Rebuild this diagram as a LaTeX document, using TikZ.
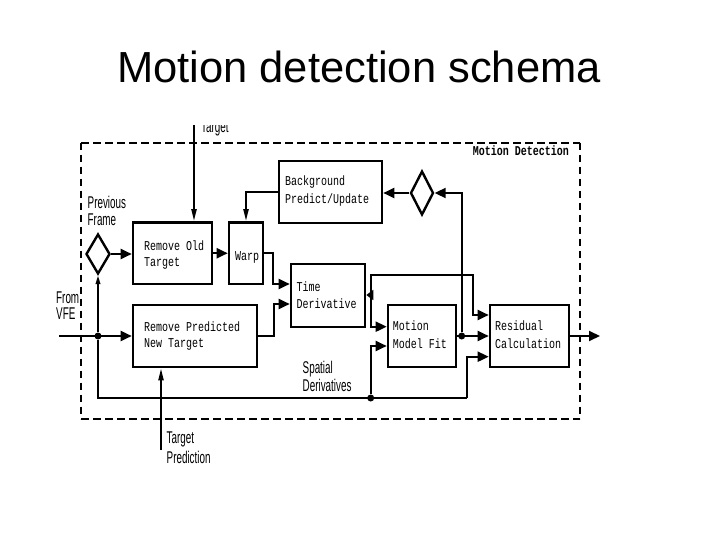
\documentclass[tikz,border=0pt]{standalone}
\usepackage{fontspec}
\setmainfont{Liberation Sans}
\newfontfamily\monof{Liberation Mono}
\usetikzlibrary{arrows.meta,shapes.geometric}
\newcommand\mtxt[2]{\scalebox{1}[1.35]{\monof\fontsize{10}{#1}\selectfont\begin{tabular}[t]{@{}l@{}}#2\end{tabular}}}
\newcommand\stxt[2]{\scalebox{0.58}[1]{\fontsize{17}{#1}\selectfont\begin{tabular}[t]{@{}l@{}}#2\end{tabular}}}
\begin{document}
\begin{tikzpicture}[x=1pt,y=-1pt,
  box/.style={draw, line width=2.6pt, inner sep=0pt},
  dia/.style={draw, diamond, line width=2.4pt, inner sep=0pt},
  conn/.style={line width=2pt},
  harr/.style={conn, -{Triangle[length=11pt,width=10pt]}},
  sarr/.style={conn, -{Triangle[length=7pt,width=10pt]}},
  varr/.style={conn, -{Triangle[length=12pt,width=5pt]}},
  vsarr/.style={conn, -{Triangle[length=9pt,width=4.5pt]}},
  dot/.style={circle, fill, inner sep=0pt, minimum size=7pt},
  lbl/.style={inner sep=0pt, anchor=base west},
  frameh/.style={line width=2pt, dash pattern=on 8pt off 4pt},
  framev/.style={line width=1.1pt, dash pattern=on 7pt off 5pt}]
\useasboundingbox (0,0) rectangle (720,540);
% title
\node[inner sep=0pt, anchor=base] (title) at (359,82.7) {\fontsize{43.5}{50}\selectfont Motion detection schema};
% frame
\draw[frameh] (81,142.7) -- (580,142.7);
\draw[frameh] (81,418.7) -- (580,418.7);
\draw[framev] (81,142.7) -- (81,418.7);
\draw[framev] (580,142.7) -- (580,418.7);
\node[lbl] (mdl) at (472.7,155.5) {\mtxt{12.6}{\bfseries Motion Detection}};
% boxes
\node[box, minimum width=79pt, minimum height=61.5pt] (rot) at (172.5,253.25) {};
\node[box, minimum width=34pt, minimum height=61.5pt] (warp) at (246,253.25) {};
\node[box, minimum width=103pt, minimum height=62pt] (bg) at (330.5,192) {};
\node[box, minimum width=74pt, minimum height=63pt] (td) at (328,295.5) {};
\node[box, minimum width=124pt, minimum height=62pt] (rpt) at (195,336) {};
\node[box, minimum width=68pt, minimum height=62pt] (mmf) at (422,336) {};
\node[box, minimum width=79pt, minimum height=62pt] (res) at (529.5,336) {};
\node[dia, minimum width=24pt, minimum height=40pt] (d1) at (98,254) {};
\node[dia, minimum width=23pt, minimum height=44pt] (d2) at (422,193) {};
% box texts
\node[lbl] (rott) at (144,250) {\mtxt{12.4}{Remove Old\\Target}};
\node[lbl] (warpt) at (235,260.5) {\mtxt{12.6}{Warp}};
\node[lbl] (bgt) at (285,186) {\mtxt{12.6}{Background\\Predict/Update}};
\node[lbl] (tdt) at (296.5,291) {\mtxt{12.6}{Time\\Derivative}};
\node[lbl] (rptt) at (144,331) {\mtxt{12.3}{Remove Predicted\\New Target}};
\node[lbl] (mmft) at (392.7,330.7) {\mtxt{13.5}{Motion\\Model Fit}};
\node[lbl] (rest) at (495,330.7) {\mtxt{13.5}{Residual\\Calculation}};
% outside labels
\begin{scope}
\clip (150,126) rectangle (260,140);
\node[lbl] (tgtl) at (201,133) {\stxt{17}{Target}};
\end{scope}
\node[lbl] (pfl) at (87.5,209) {\stxt{16}{Previous\\Frame}};
\node[lbl] (vfel) at (56,303) {\stxt{15}{From\\VFE}};
\node[lbl] (spl) at (302.5,373) {\stxt{18.5}{Spatial\\Derivatives}};
\node[lbl] (tpl) at (166.5,443) {\stxt{20}{Target\\Prediction}};
% coordinates
\coordinate (tgtin) at (194,125);
\coordinate (w1) at (273,284);
\coordinate (p1) at (274,304);
\coordinate (vfe) at (59,336);
\node[dot] (j1) at (98,336) {};
\coordinate (sp1) at (98,398);
\coordinate (sp2) at (466.7,398);
\coordinate (sp3) at (466.7,356.7);
\node[dot] (j2) at (370.7,398) {};
\coordinate (m2) at (370.7,346);
\coordinate (tdj) at (370.7,295);
\coordinate (m1) at (370.7,326.7);
\coordinate (t1) at (370.7,275);
\coordinate (t3) at (472.7,315);
\node[dot] (j3) at (461.7,336) {};
\coordinate (fb) at (461.7,193);
\coordinate (out) at (600,336);
\coordinate (tp) at (161,450);
% connectors
\draw[varr] (tgtin) -- (tgtin |- rot.north);
\draw[harr] (d1.east) -- (d1.east -| rot.west);
\draw[harr] (rot.east) -- (rot.east -| warp.west);
\draw[varr] (bg.west) -| (warp.north);
\draw[harr] (warp.east) -| (w1) -- (w1 -| td.west);
\draw[harr] (rpt.east) -| (p1) -- (p1 -| td.west);
\draw[harr] (vfe) -- (rpt.west);
\draw[vsarr] (j1) -- (d1.south);
\draw[conn] (j1) -- (sp1) -- (sp2);
\draw[harr] (sp2) -- (sp3) -- (sp3 -| res.west);
\draw[harr] (j2) -- (m2) -- (m2 -| mmf.west);
\draw[sarr] (tdj) -- (tdj -| td.east);
\draw[harr] (tdj) -- (m1) -- (m1 -| mmf.west);
\draw[harr] (tdj) -- (t1) -| (t3) -- (t3 -| res.west);
\draw[harr] (mmf.east) -- (res.west);
\draw[harr] (j3) -- (fb) -- (d2.east);
\draw[harr] (d2.west) -- (d2.west -| bg.east);
\draw[harr] (res.east) -- (out);
\draw[varr] (tp) -- (tp |- rpt.south);
\end{tikzpicture}
\end{document}
